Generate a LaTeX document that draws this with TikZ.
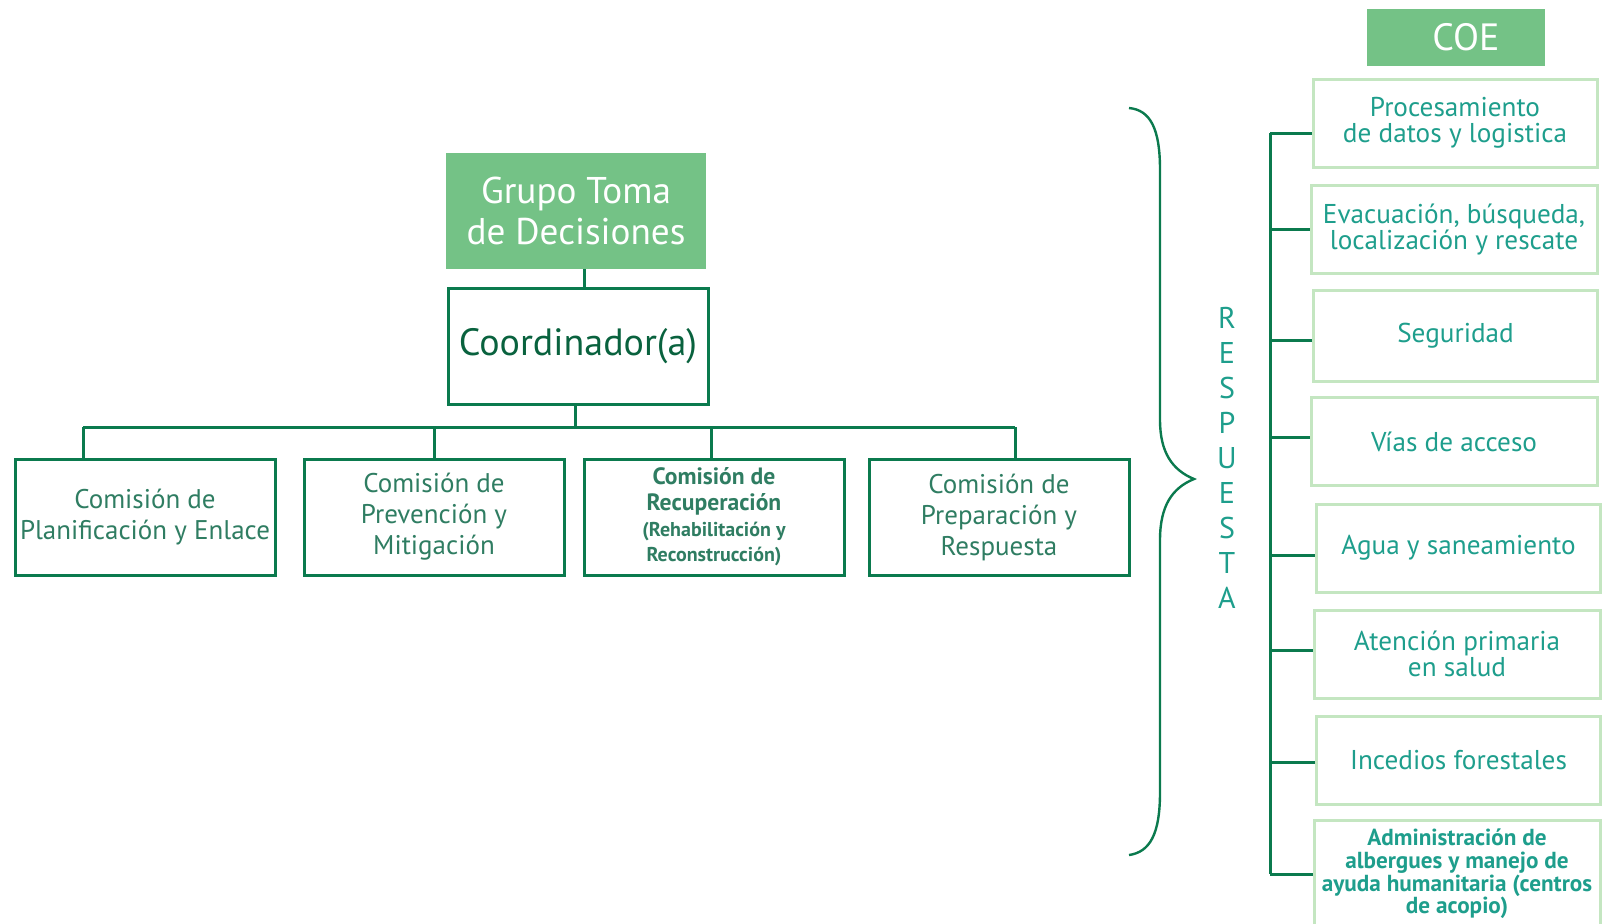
\documentclass[tikz,border=0pt]{standalone}
\usepackage{fontspec}
\setmainfont{PT Sans}
\usepackage{xcolor}
\usepackage{tikz}
\usetikzlibrary{positioning}

\definecolor{coegreen}{HTML}{74C286}
\definecolor{darkgreen}{HTML}{0B7A4E}
\definecolor{lightgreen}{HTML}{C4E6C1}
\definecolor{tealtext}{HTML}{1E9E8C}
\definecolor{olivetext}{HTML}{2F7D62}

\tikzset{
    headbox/.style={fill=coegreen, text=white, align=center, inner sep=0pt},
    combox/.style={draw=darkgreen, line width=1.5pt, text=olivetext, align=center, inner sep=0pt,
        minimum width=130pt, minimum height=58pt},
    coebox/.style={draw=lightgreen, line width=1.5pt, text=tealtext, align=center, inner sep=0pt,
        minimum width=142pt, minimum height=44pt, font=\fontsize{13.6}{13.2}\selectfont},
    link/.style={darkgreen, line width=1.5pt}
}

\begin{document}
\begin{tikzpicture}[x=0.5pt,y=-0.5pt]
    \useasboundingbox (0,0) rectangle (1609,923);
    % left tree
    \node[headbox, minimum width=130pt, minimum height=58pt, font=\fontsize{18.6}{20.5}\selectfont]
        (grupo) at (576,211) {Grupo Toma\\de Decisiones};
    \node[combox, text=darkgreen!80!black, font=\fontsize{19}{20}\selectfont]
        (coord) at (578,346) {Coordinador(a)};
    \node[combox, font=\fontsize{13.5}{15.5}\selectfont] (com1) at (145,517) {Comisión de\\Planificación y Enlace};
    \node[combox, font=\fontsize{13.5}{15.5}\selectfont] (com2) at (434,517) {Comisión de\\Prevención y\\Mitigación};
    \node[combox, font=\bfseries\fontsize{11.8}{12.8}\selectfont] (com3) at (714,517)
        {Comisión de\\Recuperación\\{\fontsize{10}{12.8}\selectfont(Rehabilitación y}\\{\fontsize{10}{12.8}\selectfont Reconstrucción)}};
    \node[combox, font=\fontsize{13.5}{15.5}\selectfont] (com4) at (999,517) {Comisión de\\Preparación y\\Respuesta};
    % connectors
    \coordinate (busL) at (83,427);
    \coordinate (busR) at (1015,427);
    \draw[link] (grupo.south -| 584,0) -- (coord.north -| 584,0);
    \draw[link] (coord.south -| 575,0) -- (busL -| 575,0);
    \draw[link] (busL) -- (busR);
    \draw[link] (busL) -- (busL |- com1.north);
    \draw[link] (com2.north |- busL) -- (com2.north);
    \draw[link] (busL -| 711,0) -- (com3.north -| 711,0);
    \draw[link] (busR) -- (busR |- com4.north);

    % brace
    \draw[darkgreen, line width=1.2pt] (1129,108) .. controls (1150,110) and (1160,128) .. (1160,170)
        -- (1160,420) .. controls (1160,452) and (1172,470) .. (1194,479)
        .. controls (1172,488) and (1160,506) .. (1160,540)
        -- (1160,792) .. controls (1160,834) and (1150,852) .. (1129,855);
    \node[text=tealtext, align=center, font=\fontsize{15}{17.5}\selectfont] (resp) at (1227,458)
        {R\\E\\S\\P\\U\\E\\S\\T\\A};

    % COE column
    \node[headbox, minimum width=89pt, minimum height=28.5pt, font=\fontsize{19}{20}\selectfont]
        (coe) at (1456,37.5) {\hspace{10pt}COE};
    \node[coebox] (p1) at (1455,123) {Procesamiento\\de datos y logistica};
    \node[coebox, minimum width=143pt] (p2) at (1454,229.5) {Evacuación, búsqueda,\\localización y rescate};
    \node[coebox, minimum height=45.5pt] (p3) at (1455.5,335.5) {Seguridad};
    \node[coebox, minimum width=143pt] (p4) at (1454,441.5) {Vías de acceso};
    \node[coebox] (p5) at (1458.5,548) {Agua y saneamiento};
    \node[coebox, minimum width=143pt] (p6) at (1457,654) {Atención primaria\\en salud};
    \node[coebox] (p7) at (1458.5,760) {Incedios forestales};
    \node[coebox, minimum width=143pt, minimum height=54pt, font=\bfseries\fontsize{11.6}{11.3}\selectfont]
        (p8) at (1457,874) {Administración de\\albergues y manejo de\\ayuda humanitaria (centros\\de acopio)};
    % bus to COE boxes
    \coordinate (vbus) at (1270,0);
    \draw[link] (vbus |- 0,133) -- (vbus |- p8.west);
    \draw[link] (vbus |- 0,133) -- (p1.west |- 0,133);
    \draw[link] (vbus |- p2.west) -- (p2.west);
    \draw[link] (vbus |- 0,340) -- (p3.west |- 0,340);
    \draw[link] (vbus |- 0,437) -- (p4.west |- 0,437);
    \draw[link] (vbus |- 0,555) -- (p5.west |- 0,555);
    \draw[link] (vbus |- 0,650) -- (p6.west |- 0,650);
    \draw[link] (vbus |- 0,762) -- (p7.west |- 0,762);
    \draw[link] (vbus |- p8.west) -- (p8.west);
\end{tikzpicture}
\end{document}
